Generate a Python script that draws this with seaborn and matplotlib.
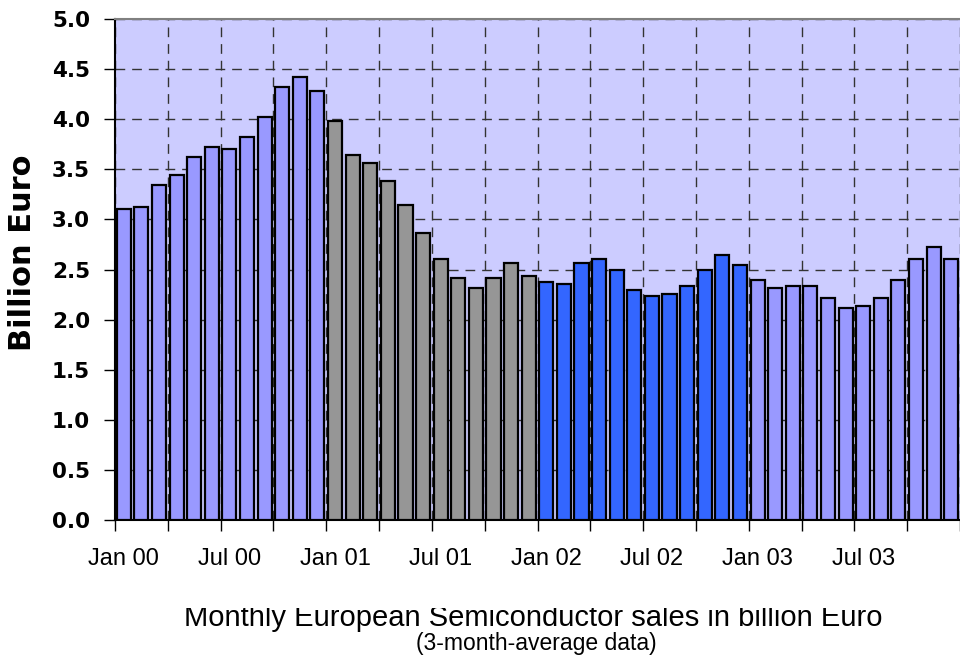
import numpy as np
import pandas as pd
import matplotlib
matplotlib.use("Agg")
import matplotlib.pyplot as plt
import seaborn as sns
from matplotlib.transforms import Bbox

# ---------------------------------------------
# data
# ---------------------------------------------
month_names = ["Jan", "Feb", "Mar", "Apr", "May", "Jun",
               "Jul", "Aug", "Sep", "Oct", "Nov", "Dec"]
years = ["00", "01", "02", "03"]
months = [f"{m} {y}" for y in years for m in month_names]

sales = [
    3.10, 3.12, 3.34, 3.44, 3.62, 3.72, 3.70, 3.82, 4.02, 4.32, 4.42, 4.28,
    3.98, 3.64, 3.56, 3.38, 3.14, 2.86, 2.60, 2.42, 2.32, 2.42, 2.56, 2.44,
    2.38, 2.36, 2.56, 2.60, 2.50, 2.30, 2.24, 2.26, 2.34, 2.50, 2.64, 2.54,
    2.40, 2.32, 2.34, 2.34, 2.22, 2.12, 2.14, 2.22, 2.40, 2.60, 2.72, 2.60,
]

year_colors = {"00": "#9999FF", "01": "#969696", "02": "#3366FF", "03": "#9999FF"}

tick_labels = ["Jan 00", "Jul 00", "Jan 01", "Jul 01",
               "Jan 02", "Jul 02", "Jan 03", "Jul 03"]
y_ticks = [0.0, 0.5, 1.0, 1.5, 2.0, 2.5, 3.0, 3.5, 4.0, 4.5, 5.0]

df = pd.DataFrame({"month": months, "sales": sales})
bar_colors = [year_colors[m.split()[1]] for m in months]

# ---------------------------------------------
# plot
# ---------------------------------------------
sns.set_style("ticks")
plt.rcParams["font.family"] = ["Liberation Sans", "DejaVu Sans"]
plt.rcParams["text.color"] = "black"
plt.rcParams["xtick.color"] = "black"
plt.rcParams["ytick.color"] = "black"

W, H = 960, 658
fig = plt.figure(figsize=(W / 100, H / 100), dpi=100)
step = 17.82
ax = fig.add_axes([115 / W, 1 - 520 / H, (W - 115) / W, 501 / H])
ax.set_facecolor("#CCCCFF")

sns.barplot(data=df, x="month", y="sales", hue="month", palette=bar_colors,
            legend=False, saturation=1, width=0.8, edgecolor="black",
            linewidth=1.6, ax=ax, zorder=3)

ax.set_xlim(-0.5, -0.5 + (W - 115) / step)
ax.set_ylim(0, 5)

# y axis (the bold labels in the reference are wide, DejaVu bold fits better)
ax.set_yticks(y_ticks)
ax.set_yticklabels([f"{v:.1f}" for v in y_ticks], fontweight="bold",
                   fontsize=15.5, family="DejaVu Sans")
ax.tick_params(axis="y", length=8, width=1, pad=10)

# x axis: ticks at quarter boundaries, labels at Jan / Jul bars
ax.set_xticks(np.arange(-0.5, len(months), 3))
ax.set_xticklabels([])
label_pos = [months.index(t) for t in tick_labels]
ax.set_xticks(label_pos, labels=tick_labels, minor=True)
ax.tick_params(axis="x", which="major", length=8, width=1)
ax.tick_params(axis="x", which="minor", length=0, pad=20, labelsize=17)

ax.grid(True, which="major", linestyle=(0, (7, 5)), color="#333333", linewidth=1)
ax.set_axisbelow(True)
ax.set_xlabel("")
ax.set_ylabel("")

ax.spines["top"].set_color("#808080")
ax.spines["top"].set_linewidth(1.5)
ax.spines["right"].set_visible(False)
for s in ["left", "bottom"]:
    ax.spines[s].set_color("black")
    ax.spines[s].set_linewidth(1.5)

fig.text(23 / W, 1 - 253 / H, "Billion Euro", rotation=90, ha="center",
         va="center", fontsize=22, fontweight="bold", family="DejaVu Sans")

title = fig.text(533 / W, 1 - 626 / H,
                 "Monthly European Semiconductor sales in billion Euro",
                 ha="center", va="baseline", fontsize=21)
# the top of this line is cut off in the reference
title.set_clip_box(Bbox([[0, 0], [W, H - 608]]))
title.set_clip_on(True)

fig.text(536 / W, 1 - 650 / H, "(3-month-average data)",
         ha="center", va="baseline", fontsize=16.5)

fig.savefig("out.png", dpi=100)
